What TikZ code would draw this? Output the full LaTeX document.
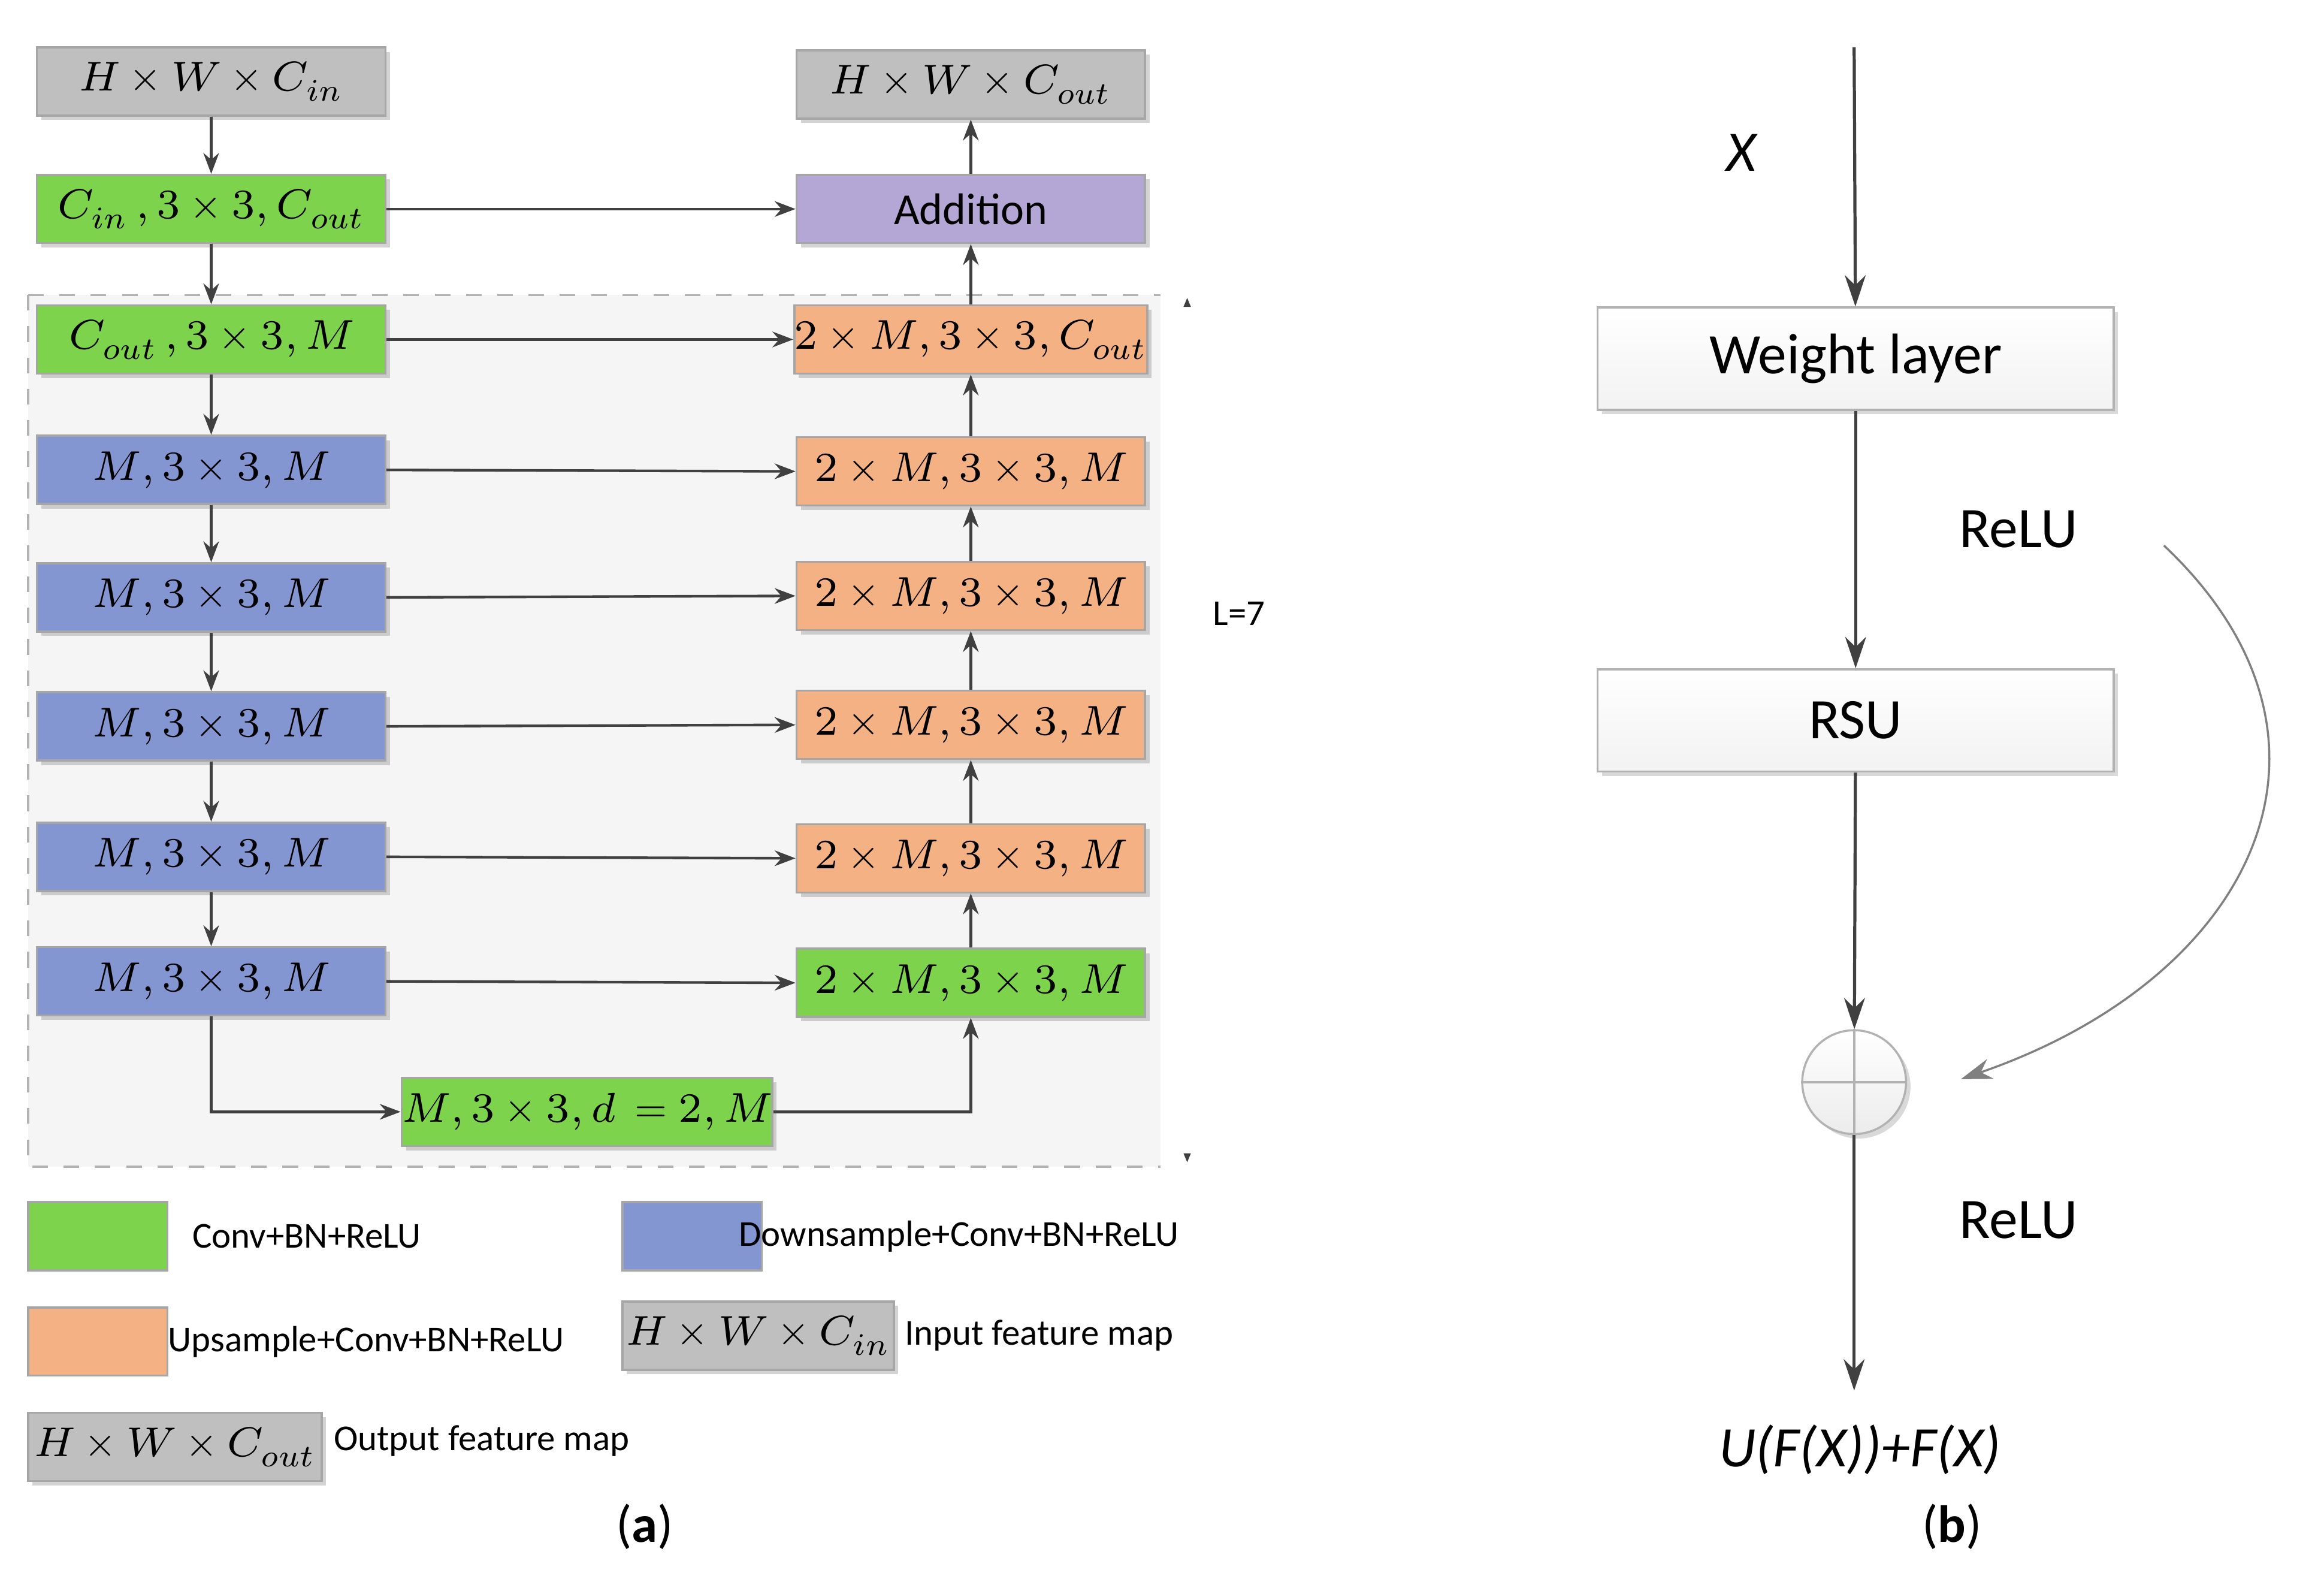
\documentclass[tikz,border=0pt]{standalone}
\usepackage{fontspec}
\setmainfont{Carlito}
\usepackage{unicode-math}
\setmathfont{Latin Modern Math}
\usetikzlibrary{arrows.meta,shadows}
\definecolor{cg}{HTML}{7DD34B}
\definecolor{cb}{HTML}{8496D2}
\definecolor{co}{HTML}{F4B183}
\definecolor{cp}{HTML}{B4A7D6}
\definecolor{cy}{HTML}{BFBFBF}
\definecolor{ln}{HTML}{404040}
\tikzset{
 box/.style={draw=gray!70,minimum width=2.35cm,minimum height=0.46cm,inner sep=0pt,font=\fontsize{8}{9}\selectfont,drop shadow={shadow xshift=0.03cm,shadow yshift=-0.03cm,opacity=0.35}},
 bg/.style={box,fill=cg}, bb/.style={box,fill=cb}, bo/.style={box,fill=co}, bp/.style={box,fill=cp}, bgy/.style={box,fill=cy},
 leg/.style={draw=gray!70,minimum width=0.94cm,minimum height=0.46cm,inner sep=0pt},
 lt/.style={font=\fontsize{7}{8}\selectfont},
 ar/.style={draw=ln,line width=0.5pt,-{Stealth[length=4pt,width=3pt]}},
 wb/.style={draw=gray!60,top color=white,bottom color=gray!10,minimum width=3.48cm,minimum height=0.69cm,font=\fontsize{11}{12}\selectfont,drop shadow={shadow xshift=0.03cm,shadow yshift=-0.03cm,opacity=0.3}},
 br/.style={draw=ln,line width=0.6pt,-{Stealth[length=6pt,width=4pt]}}
}
\begin{document}
\begin{tikzpicture}[x=0.01cm,y=-0.01cm]
\useasboundingbox (0,0) rectangle (1568,1065);
\fill[gray!8] (19,199) rectangle (783,787);
\draw[gray!60,dashed] (19,199) -- (783,199) (19,199) -- (19,787) -- (783,787);
% left column
\node[bgy] (in) at (142.5,55) {$H\times W\times C_{in}$};
\node[bg] (l1) at (142.5,141) {$C_{in}\,,3\times 3,C_{out}$};
\node[bg] (l2) at (142.5,229) {$C_{out}\,,3\times 3,M$};
\node[bb] (l3) at (142.5,317) {$M,3\times 3,M$};
\node[bb] (l4) at (142.5,403) {$M,3\times 3,M$};
\node[bb] (l5) at (142.5,490) {$M,3\times 3,M$};
\node[bb] (l6) at (142.5,578) {$M,3\times 3,M$};
\node[bb] (l7) at (142.5,662) {$M,3\times 3,M$};
\node[bg] (d) at (396,750) {$M,3\times 3,d\,=2,M$};
% right column
\node[bgy] (out) at (655,57) {$H\times W\times C_{out}$};
\node[bp] (add) at (655,141) {\fontsize{8.5}{9}\selectfont Addition};
\node[bo] (r2) at (655,229) {$2\times M,3\times 3,C_{out}$};
\node[bo] (r3) at (655,318) {$2\times M,3\times 3,M$};
\node[bo] (r4) at (655,402) {$2\times M,3\times 3,M$};
\node[bo] (r5) at (655,489) {$2\times M,3\times 3,M$};
\node[bo] (r6) at (655,579) {$2\times M,3\times 3,M$};
\node[bg] (r7) at (655,663) {$2\times M,3\times 3,M$};
\foreach \a/\b in {in/l1,l1/l2,l2/l3,l3/l4,l4/l5,l5/l6,l6/l7} \draw[ar] (\a) -- (\b);
\foreach \a/\b in {r7/r6,r6/r5,r5/r4,r4/r3,r3/r2,r2/add,add/out} \draw[ar] (\a) -- (\b);
\foreach \a/\b in {l1/add,l2/r2,l3/r3,l4/r4,l5/r5,l6/r6,l7/r7} \draw[ar] (\a.east) -- (\b.west);
\draw[ar] (l7.south) |- (d.west);
\draw[ar] (d.east) -| (r7.south);
\node[lt] (L) at (836,414) {L=7};
\fill[ln] (801,201) -- (798.5,207) -- (803.5,207) -- cycle;
\fill[ln] (801,784) -- (798.5,778) -- (803.5,778) -- cycle;
% legend
\node[leg,fill=cg] (k1) at (66,834) {};
\node[lt] (k1t) at (207,834) {Conv+BN+ReLU};
\node[leg,fill=cb] (k2) at (467,834) {};
\node[lt] (k2t) at (647,834) {Downsample+Conv+BN+ReLU};
\node[leg,fill=co] (k3) at (66,905) {};
\node[lt] (k3t) at (247,905) {Upsample+Conv+BN+ReLU};
\node[bgy,minimum width=1.83cm] (k4) at (511.5,901) {$H\times W\times C_{in}$};
\node[lt] (k4t) at (701,901) {Input feature map};
\node[bgy,minimum width=1.98cm] (k5) at (118,976) {$H\times W\times C_{out}$};
\node[lt] (k5t) at (325,972) {Output feature map};
\node[font=\fontsize{10}{12}\selectfont] (ca) at (435,1030) {(\textbf{a})};
\node[font=\fontsize{10}{12}\selectfont] (cb) at (1317,1030) {(\textbf{b})};
% right panel
\coordinate (top) at (1251,32);
\node[font=\fontsize{11}{12}\selectfont\itshape] (X) at (1175,103) {X};
\node[wb] (w) at (1252,242) {Weight layer};
\node[wb] (r) at (1252,486) {RSU};
\node[circle,draw=gray!60,top color=white,bottom color=gray!15,minimum size=0.7cm,inner sep=0pt,drop shadow={shadow xshift=0.03cm,shadow yshift=-0.03cm,opacity=0.3}] (c) at (1251,730) {};
\draw[gray!60] (c.north) -- (c.south) (c.west) -- (c.east);
\node[font=\fontsize{11}{12}\selectfont] (re1) at (1362,357) {ReLU};
\node[font=\fontsize{11}{12}\selectfont] (re2) at (1362,823) {ReLU};
\node[font=\fontsize{11}{12}\selectfont\itshape] (o) at (1255,978) {U(F(X))+F(X)};
\coordinate (bot) at (1251,938);
\coordinate (cs) at (1460,368);
\coordinate (ce) at (1323,728);
\draw[br] (top) -- (w);
\draw[br] (w) -- (r);
\draw[br] (r) -- (c);
\draw[br] (c) -- (bot);
\draw[draw=gray,line width=0.4pt,-{Stealth[length=6pt,width=4pt]}] (cs) .. controls (1600,500) and (1520,660) .. (ce);
\end{tikzpicture}
\end{document}
